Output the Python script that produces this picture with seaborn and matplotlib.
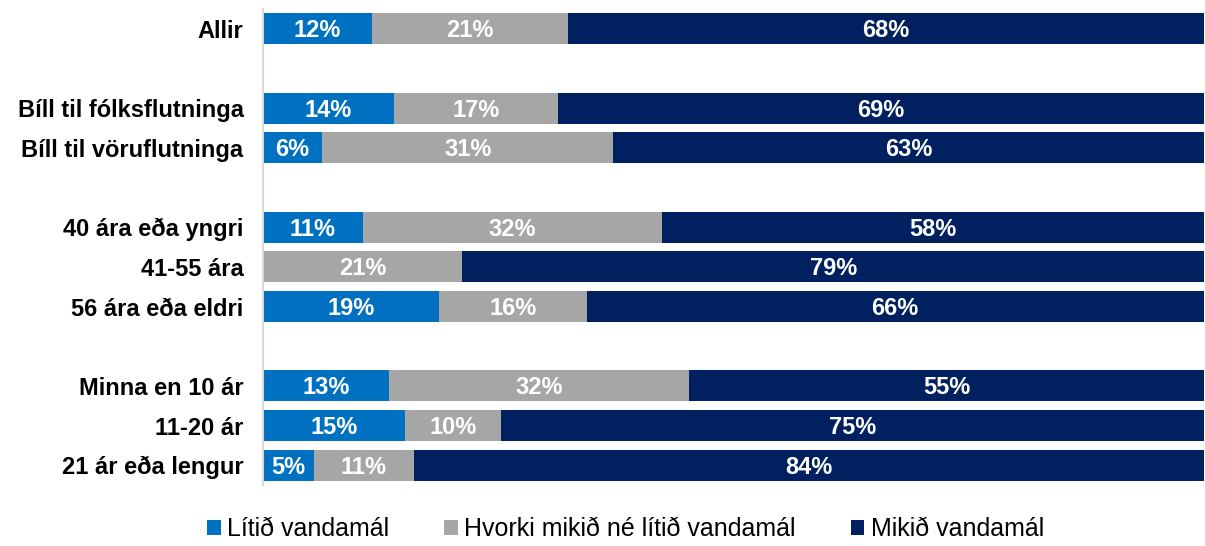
import matplotlib.pyplot as plt
import seaborn as sns
import pandas as pd
from matplotlib.patches import Patch

# Data (percent of respondents)
categories = [
    "Allir",
    "Bíll til fólksflutninga",
    "Bíll til vöruflutninga",
    "40 ára eða yngri",
    "41-55 ára",
    "56 ára eða eldri",
    "Minna en 10 ár",
    "11-20 ár",
    "21 ár eða lengur",
]
litid = [11.6, 13.9, 6.3, 10.6, 0.0, 18.7, 13.4, 15.1, 5.4]
hvorki = [20.8, 17.4, 30.9, 31.8, 21.2, 15.7, 31.9, 10.2, 10.6]
mikid = [67.6, 68.7, 62.8, 57.6, 78.8, 65.6, 54.7, 74.7, 84.0]

series_names = ["Lítið vandamál", "Hvorki mikið né lítið vandamál", "Mikið vandamál"]
colors = ["#0070C0", "#A6A6A6", "#002060"]

# order with empty slots between the groups
order = [
    "Allir", " ",
    "Bíll til fólksflutninga", "Bíll til vöruflutninga", "  ",
    "40 ára eða yngri", "41-55 ára", "56 ára eða eldri", "   ",
    "Minna en 10 ár", "11-20 ár", "21 ár eða lengur",
]

df = pd.DataFrame({"flokkur": categories, "litid": litid, "hvorki": hvorki, "mikid": mikid})
df["c1"] = df["litid"]
df["c2"] = df["litid"] + df["hvorki"]
df["c3"] = df["c2"] + df["mikid"]

sns.set_style("white")
plt.rcParams["font.family"] = ["Liberation Sans", "DejaVu Sans"]
plt.rcParams["text.color"] = "black"
plt.rcParams["ytick.color"] = "black"

fig, ax = plt.subplots(figsize=(12.05, 5.46), dpi=100)
fig.subplots_adjust(left=0.2183, right=0.999, top=0.9835, bottom=0.1117)

# stacked bars drawn back to front
for col, color in zip(["c3", "c2", "c1"], colors[::-1]):
    sns.barplot(data=df, x=col, y="flokkur", order=order, color=color,
                saturation=1, width=0.78, errorbar=None, linewidth=0, ax=ax)

# value labels
for _, row in df.iterrows():
    ypos = order.index(row["flokkur"])
    start = 0
    for col in ["litid", "hvorki", "mikid"]:
        v = row[col]
        if v > 0:
            ax.text(start + v / 2, ypos + 0.05, f"{v:.0f}%", ha="center", va="center",
                    color="white", fontsize=17, fontweight="bold")
        start += v

ax.set_xlim(0, 100)
ax.set_xticks([])
ax.set_xlabel("")
ax.set_ylabel("")
ax.tick_params(axis="y", length=0, pad=14, labelsize=17, labelcolor="black")
for lbl in ax.get_yticklabels():
    lbl.set_fontweight("bold")
for side in ["top", "right", "bottom"]:
    ax.spines[side].set_visible(False)
ax.spines["left"].set_color("#D9D9D9")
ax.spines["left"].set_linewidth(1.5)

handles = [Patch(facecolor=c, edgecolor="none", label=n) for c, n in zip(colors, series_names)]
fig.legend(handles=handles, loc="center", bbox_to_anchor=(0.519, 17 / 546), ncol=3,
           frameon=False, fontsize=18, handlelength=0.55, handleheight=0.55,
           handletextpad=0.25, columnspacing=2.2, borderpad=0)

plt.savefig("out.png", dpi=100)
plt.close()
